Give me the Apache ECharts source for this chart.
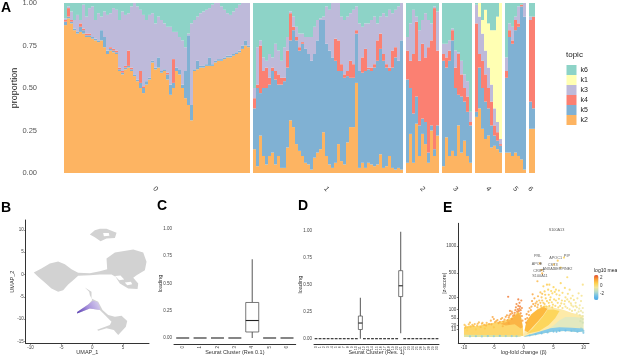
<!DOCTYPE html>
<html><head><meta charset="utf-8">
<script src="https://cdn.jsdelivr.net/npm/echarts@6/dist/echarts.min.js"></script>
<style>html,body{margin:0;padding:0;background:#fff}#c{width:617px;height:358px}</style></head>
<body><div id="c"></div>
<script>
// ---------- Panel A: upper edge of each topic band, column by column, null = gap between clusters
const clusterLabels = ['0','1','2','3','4','5','6'];
const clusterSizes = [62,50,11,10,9,7,2];
const topK2 = [
 .87,.91,.88,.84,.82,.83,.82,.80,.80,.79,.78,.77,.78,.74,.70,.72,.71,.70,.60,.58,
 .61,.62,.60,.57,.54,.50,.47,.52,.55,.65,.61,.62,.59,.60,.55,.46,.50,.60,.58,.50,
 .44,.40,.31,.60,.61,.62,.62,.63,.63,.63,.65,.66,.66,.67,.68,.68,.69,.70,.71,.73,.75,.74, null,
 .14,.04,.22,.10,.05,.10,.12,.05,.10,.03,.03,.15,.31,.27,.17,.13,.10,.06,.05,.02,
 .09,.12,.14,.24,.10,.05,.03,.06,.17,.07,.05,.18,.27,.27,.53,.03,.06,.03,.06,.05,
 .04,.05,.11,.03,.04,.10,.03,.02,.03,.02, null,
 .06,.23,.06,.29,.10,.23,.17,.06,.25,.10,.22, null,
 .04,.21,.10,.13,.10,.28,.12,.19,.10,.06, null,
 .33,.38,.26,.20,.22,.15,.16,.14,.12, null,
 .12,.12,.10,.12,.10,.08,.02, null,
 .26,.26];
const topK5 = [
 .89,.92,.89,.85,.83,.86,.84,.81,.81,.80,.79,.78,.84,.80,.72,.73,.72,.71,.61,.59,
 .62,.63,.61,.58,.55,.53,.50,.54,.56,.66,.62,.68,.60,.61,.58,.52,.53,.62,.61,.52,
 .60,.81,.40,.61,.66,.63,.63,.64,.68,.64,.66,.67,.67,.68,.69,.69,.70,.71,.72,.75,.78,.75, null,
 .38,.50,.47,.50,.50,.52,.60,.55,.52,.52,.54,.62,.78,.84,.78,.72,.76,.73,.70,.66,
 .70,.78,.90,.90,.76,.72,.68,.66,.60,.60,.56,.57,.56,.56,.82,.60,.59,.60,.61,.60,
 .62,.66,.73,.66,.62,.60,.62,.68,.66,.78, null,
 .55,.50,.35,.45,.28,.32,.30,.12,.28,.14,.28, null,
 .66,.62,.66,.78,.50,.46,.45,.42,.36,.28, null,
 .36,.62,.50,.42,.38,.28,.22,.19,.16, null,
 .56,.80,.76,.84,.86,.98,.92, null,
 .42,.38];
const topK4 = [
 .90,.97,.90,.85,.83,.88,.85,.82,.82,.80,.79,.78,.84,.80,.72,.74,.73,.72,.62,.60,
 .63,.72,.62,.58,.55,.60,.51,.54,.56,.66,.62,.68,.60,.61,.59,.52,.67,.62,.61,.52,
 .60,.81,.40,.61,.66,.63,.63,.64,.68,.64,.66,.67,.67,.68,.69,.69,.70,.71,.72,.75,.78,.75, null,
 .44,.52,.75,.60,.62,.56,.62,.60,.58,.56,.56,.72,.94,.86,.80,.74,.77,.73,.70,.66,
 .70,.78,.90,.90,.76,.72,.68,.79,.78,.64,.58,.60,.66,.64,.84,.60,.68,.73,.62,.62,
 .64,.78,.82,.70,.64,.62,.72,.74,.66,.78, null,
 .72,.66,.70,.89,.66,.76,.68,.74,.78,.97,.72, null,
 .70,.68,.72,.84,.62,.70,.58,.50,.45,.30, null,
 .88,.70,.66,.58,.50,.42,.28,.24,.17, null,
 .60,.84,.78,.90,.88,.99,.92, null,
 .90,.92];
const topK3 = [
 .91,.98,.95,.90,.93,.90,.99,.92,.97,.98,.90,.94,.92,.95,.93,.94,.97,.96,.90,.95,
 .93,.94,.98,1,.98,.96,.93,.90,.93,.94,.88,.92,.90,.88,.86,.86,.83,.83,.80,.78,
 .74,.82,.88,.90,.92,.94,.95,.96,.97,.99,1,1,.98,.96,.94,.93,.95,.97,.99,1,1,1, null,
 .50,.74,.78,.68,.66,.70,.68,.76,.72,.66,.74,.80,.95,.92,.86,.82,.82,.80,.80,.80,
 .86,.90,.91,.92,.98,.96,1,1,1,.92,.90,.92,.94,.96,.98,.88,.86,.88,.88,.90,
 .92,.88,.92,.94,.92,.96,.94,.96,.98,1, null,
 .80,.88,.96,.92,.84,.90,.94,.90,.88,.98,.95, null,
 .76,.76,.78,.85,.72,.71,.66,.58,.54,.36, null,
 .99,.92,.82,.72,.62,.52,.38,.30,.20, null,
 .68,.88,.86,.92,.98,.99,1, null,
 .92,.92];
const k1Cluster4 = [0,.08,.08,.24,.26,.32,.46,.62,.80];
const topicNames = ['k2','k5','k4','k3','k1','k6'];
const topicColors = ['#FDB462','#80B1D3','#FB8072','#BEBADA','#FFFFB3','#8DD3C7'];
const legendOrder = ['k6','k1','k3','k4','k5','k2'];

// ---------- Panel B: UMAP outlines, in UMAP units
const umapMain = [[-9.49,.45],[-8.24,1.34],[-6.88,2.46],[-5.53,2.91],[-4.44,2.31],[-3.36,1.19],[-2.28,.37],[-.38,.30],[1.25,.75],[2.44,1.19],[2.33,3.58],[3.69,4.93],[6.67,5.6],[8.29,4.93],[8.83,2.84],[8.56,.97],[7.21,-.15],[6.67,-.75],[7.48,-2.01],[7.37,-3.28],[5.85,-3.13],[4.5,-2.01],[3.79,-.52],[3.14,0],[1.25,0],[-.38,-.15],[-2.28,-.3],[-3.09,-1.27],[-3.9,-2.24],[-4.72,-3.51],[-5.53,-3.88],[-6.61,-3.13],[-7.7,-1.79],[-8.78,-.52]];
const umapTop = [[-.38,8.96],[.43,9.93],[1.25,10.3],[2.33,10.3],[3.96,9.4],[3.69,8.2],[2.33,8.06],[1.36,7.46],[.43,8.36]];
const umapLower = [[-1.19,-2.91],[-.81,-3.28],[-.11,-3.88],[-.11,-5.37],[.98,-6.12],[1.68,-7.99],[2.6,-9.1],[3.69,-9.48],[4.77,-9.25],[5.69,-10.45],[5.47,-11.72],[4.23,-13.58],[3.52,-12.46],[2.33,-12.09],[.98,-12.61],[.81,-12.39],[2.87,-11.34],[3.14,-10.6],[2.06,-9.1],[1.25,-7.99],[-.38,-7.61],[-2.44,-8.73],[-2.44,-8.43],[-.65,-6.72],[0,-5.75],[-.38,-4.63],[-.49,-3.88]];
const umapHole1 = [[1.79,9.3],[2.7,9.3],[2.8,8.7],[1.9,8.6]];
const umapHole2 = [[3.7,-.35],[4.6,-.2],[5.2,-1.1],[4.4,-1.3]];
const umapHole3 = [[5.3,-1.8],[6.3,-1.6],[6.5,-2.2],[5.7,-2.4]];
const umapPurple = [[-2.44,-8.73],[-2.44,-8.43],[-.65,-6.72],[.1,-5.9],[.9,-6.2],[1.3,-7.4],[1.25,-7.99],[-.38,-7.61]];

// ---------- Panels C and D: box statistics
const cClusters = ['0','1','2','3','4','5','6'];
const cMin = [0,0,0,0,0,0,0];
const cQ1  = [0,0,0,0,.055,0,0];
const cMed = [0,0,0,0,.16,0,0];
const cQ3  = [0,0,0,0,.325,0,0];
const cMax = [0,0,0,0,.72,0,0];
const dClusters = ['0','1','2','3','4','5','6','7','8','9','10','11','12','13','14','15','16','17','18','19','20','21','22','23','24','25','26','27','28','29','30'];
const dMin = [0,0,0,0,0,0,0,0,0,0,0,0,0,0,0,0,0,0,0,0,0,.05,0,0,0,0,0,0,0,0,0];
const dQ1  = [0,0,0,0,0,0,0,0,0,0,0,.085,0,0,0,0,0,0,0,0,0,.39,0,0,0,0,0,0,0,0,0];
const dMed = [0,0,0,0,0,0,0,0,0,0,0,.145,0,0,0,0,0,0,0,0,0,.49,0,0,0,0,0,0,0,0,0];
const dQ3  = [0,0,0,0,0,0,0,0,0,0,0,.21,0,0,0,0,0,0,0,0,0,.63,0,0,0,0,0,0,0,0,0];
const dMax = [0,0,0,0,0,0,0,0,0,0,0,.38,0,0,0,0,0,0,0,0,0,.99,0,0,0,0,0,0,0,0,0];

// ---------- Panel E: dense regions as [lfc, |z|] outlines, sparse points as [lfc, |z|, log10 mean]
const cloudLeftBase = [[-10,14],[-9,20],[-8,18],[-7,22],[-6,26],[-5,30],[-4,34],[-3,40],[-2,52],[-1.4,70],[-.9,88],[-.5,70],[-.2,25],[0,1],[-1,.5],[-10,.5]];
const cloudLeftHot = [[-4,26],[-3,32],[-2,46],[-1.3,66],[-.9,80],[-.5,60],[-.15,15],[-.5,12],[-1.5,24],[-3,20]];
const cloudLeftLow = [[-10,.5],[-.6,.5],[-.3,1.2],[-10,1.8]];
const cloudRightBase = [[0,1],[.3,22],[.8,46],[1.5,76],[2.5,108],[3.5,130],[5,112],[6.5,100],[8,78],[10,62],[10,6],[9,5],[8,6],[7,7],[5,6],[3,3],[1.5,1.2],[0,.3]];
const cloudRightWarm = [[.15,8],[.5,38],[1.3,70],[2.3,100],[3.3,118],[4,105],[3.2,62],[2.4,36],[1.5,16],[.7,5]];
const cloudRightMid = [[.5,3],[1.5,12],[2.4,32],[3.2,56],[4,98],[5,100],[6,90],[5.3,50],[4.2,22],[2.6,7]];
const cloudRightPale = [[3.5,6],[5,20],[6,40],[7,55],[8.5,55],[10,50],[10,10],[8,10],[6,11],[4.5,10]];
const cloudRightBlue = [[0,.3],[1.5,1.2],[3,3],[5,6],[7,7],[8,6],[9,5],[10,6],[10,12],[8,14],[6,15],[4.5,13],[3,7],[1.5,2.8],[.3,1]];
const cloudColors = ['#fdd66b','#fbb445','#d9e4a8','#fdeaa8','#fdb93f','#fdd65c','#e2e9c0','#86cbe8'];
const sparsePoints = [
 [1.4,165,1.5],[1.6,140,1.4],[2.3,385,1.0],[1.5,230,1.4],[-2.6,205,2.0],[-.9,180,2.0],[-.4,170,1.9],[-.7,150,1.9],[-1.2,140,1.8],[-.6,120,2],
 [-.3,110,1.8],[-1.0,100,1.9],[-1.4,95,1.7],[-2.3,90,1.8],[-2.0,85,1.6],[-.8,90,1.9],[-.5,95,1.8],[3.3,320,.6],[3.9,340,.7],[4.3,340,.6],
 [2.8,250,.8],[3.5,260,.6],[4.1,280,.5],[5.0,310,.5],[5.4,280,.3],[6.2,360,.5],[7.3,440,.2],[6.9,300,.2],[7.7,280,.1],[9.9,340,-.1],
 [9.2,240,-.2],[9.7,215,-.3],[8.2,215,-.1],[7.0,200,0],[6.0,220,.2],[5.5,230,.3],[4.8,240,.4],[3.0,200,.8],[4.5,200,.5],[3.7,190,.6],
 [5.1,180,.3],[6.4,170,.1],[7.6,160,-.1],[8.7,150,-.4],[9.4,130,-.5],[9.9,110,-.6],[8.0,130,-.3],[6.8,140,-.2],[2.2,160,1],[2.6,170,.9],
 [1.9,125,1.1],[3.3,150,.7],[4.2,150,.5],[5.7,150,.2],[9.9,80,-.7],[9.9,60,-.8],[9.9,45,-1],[9.9,30,-1.2],[8.6,95,-.5],[9.2,85,-.6],
 [7.3,110,-.2],[6.1,125,0],[4.9,135,.3],[3.8,120,.5],[2.9,125,.8],[1.2,95,1.3],[.9,65,1.4],[.6,50,1.5],[.4,30,1.5],[8.9,115,-.4],
 [-9.9,22,.8],[-9.8,14,.8],[-9.4,15,.7],[-9,30,1.0],[-8.6,22,.9],[-8.2,25,1],[-7.8,20,.9],[-7.5,31,1],[-7,26,1],[-6.6,22,1],
 [-6.2,29,1],[-5.8,25,1.1],[-5.2,55,1.4],[-5,45,1.4],[-4.8,32,1.2],[-4.4,40,1.3],[-4,33,1.2],[-3.6,50,1.3],[-3.2,42,1.3],[-2.8,64,1.5],
 [-2.5,52,1.5],[-2.2,70,1.6],[-1.8,60,1.6],[-1.5,78,1.7],[-9.5,8,.4],[-8,10,.5],[-6.5,12,.6],[-5,15,.7],[-3.5,18,1],[-2.5,28,1.3],
 [-9,.6,-2.2],[-8,.7,-2.3],[-7,.6,-2.1],[-6,.8,-2.3],[-5,.7,-2.2],[-4,.9,-2.4],[-3,.8,-2.1],[-2,.8,-2.2],[-1.2,.7,-2.2],[1,1.2,-2.5],
 [2,2.2,-2.5],[3,3.2,-2.6],[4,4.5,-2.6],[5,6,-2.7],[6,7,-2.7],[7,7.5,-2.7],[8,7,-2.6],[9,6,-2.5],[10,7,-2.3],[10,4,-2.5],
 [5.5,5.5,-2.7],[8.5,9,-2.3],[9.6,12,-2],[2.7,660,1.0],[6.75,767,.5],[5.7,710,.7],[5.05,640,.8],[6.2,590,.5],[3,548,1.1],[3.1,497,1.1],
 [1.8,190,1.3],[2.4,210,1.1],[3.1,235,.9],[3.6,225,.7],[4.2,225,.6],[4.6,265,.5],[5.2,255,.4],[5.9,270,.3],[6.5,245,.2],[7.4,235,0],
 [7.9,190,-.1],[8.4,175,-.2],[9.0,190,-.3],[9.6,165,-.4],[2.0,145,1.2],[2.4,135,1.1],[2.8,150,.9],[3.1,170,.8],[3.5,140,.7],[3.9,165,.6],
 [4.4,175,.5],[4.7,155,.4],[5.4,170,.3],[5.9,185,.2],[6.3,145,.1],[6.9,165,0],[7.3,180,-.1],[7.9,145,-.2],[8.3,120,-.3],[8.7,125,-.4],
 [9.3,105,-.6],[9.6,90,-.7],[1.3,120,1.4],[1.0,110,1.5],[.8,85,1.5],[.5,70,1.6],[.3,45,1.6],[2.3,115,1.2],[3.0,110,.9],[3.4,118,.8],
 [4.3,125,.6],[4.8,115,.5],[5.3,125,.3],[5.8,115,.2],[6.5,110,0],[7,120,-.1],[7.7,100,-.3],[8.1,90,-.4],[8.9,75,-.6],[9.4,65,-.8],
 [9.6,50,-.9],[9.5,36,-1.1],[-9.7,18,.9],[-9.2,24,.9],[-8.9,17,.8],[-8.4,19,.9],[-7.2,16,.9],[-7.7,26,1],[-6.9,29,1],[-6.3,20,1],
 [-5.5,38,1.2],[-5.4,24,1.1],[-4.6,36,1.2],[-4.2,28,1.2],[-3.8,45,1.3],[-3.4,34,1.3],[-3,56,1.4],[-2.7,40,1.4],[-2.4,62,1.6],[-2,46,1.5],
 [-1.9,75,1.7],[-1.6,65,1.7],[-1.3,115,1.8],[-1.1,85,1.8],[-.9,125,1.9],[-.7,105,1.9],[-.5,75,1.8],[-.3,60,1.7],[-.2,38,1.6]];
const geneLabels = ['S100A13','PRL','APOC1','PIP','APOE','CST3','ANXA1','SERPINE2','CRIP1','S100A11'];
const geneLfc = [5.5,2.34,5.35,7.24,2.23,4.85,4.2,6.6,2.56,2.73];
const geneZ = [1390,790,762,807,654,636,570,570,537,466];
const eTicks = [5,10,20,50,100,200,500,1000];
const meanTicks = ['2','0','-2'];

// ---------- assemble
const n = topK2.length;
const k1Vals = [];
const start4 = clusterSizes.slice(0,4).reduce((a,b)=>a+b,0)+4;
for (let i=0;i<n;i++){
  if (topK2[i]===null) k1Vals.push(null);
  else if (i>=start4 && i<start4+k1Cluster4.length) k1Vals.push(k1Cluster4[i-start4]);
  else k1Vals.push(0);
}
const diff=(a,b)=>a.map((v,i)=>v===null?null:+(v-(b?b[i]:0)).toFixed(3));
const k6Vals = topK3.map((v,i)=>v===null?null:+Math.max(0,1-v-k1Vals[i]).toFixed(3));
const stackVals = [topK2,diff(topK5,topK2),diff(topK4,topK5),diff(topK3,topK4),k1Vals,k6Vals];
const aCats=[]; clusterSizes.forEach((s,c)=>{
  for(let i=0;i<s;i++) aCats.push(i===Math.floor((s-1)/2)?clusterLabels[c]:'');
  if(c<clusterSizes.length-1) aCats.push('');
});
const F='"Liberation Sans",Arial,sans-serif';
const tiny={fontFamily:F,fontSize:4.5,color:'#444'};
const nameStyle={fontFamily:F,fontSize:5.5,color:'#333'};
const axLine={onZero:false,lineStyle:{color:'#333',width:1}};
const axTick={length:1.5,lineStyle:{color:'#333',width:.6}};

function polySeries(x,polys,styles,toY){
  return {type:'custom',xAxisIndex:x,yAxisIndex:x,silent:true,clip:false,
    data:polys.map((p,i)=>[i,0]),
    renderItem:(params,api)=>({type:'polygon',
      shape:{points:polys[params.dataIndex].map(p=>api.coord([p[0],toY?toY(p[1]):p[1]]))},
      style:styles(params.dataIndex)})};
}
function boxSeries(x,mins,q1,med,q3,maxs,w,flatW){
  return {type:'custom',xAxisIndex:x,yAxisIndex:x,silent:true,clip:false,
    data:mins.map((v,i)=>[i,med[i]]),
    renderItem:(params,api)=>{
      const i=params.dataIndex;
      const xc=api.coord([i,0])[0];
      const y=v=>api.coord([i,v])[1];
      const kids=[];
      const ww=maxs[i]>mins[i]?w:flatW;
      if(maxs[i]>mins[i]){
        kids.push({type:'line',shape:{x1:xc,y1:y(mins[i]),x2:xc,y2:y(q1[i])},style:{stroke:'#666',lineWidth:1.1}});
        kids.push({type:'line',shape:{x1:xc,y1:y(q3[i]),x2:xc,y2:y(maxs[i])},style:{stroke:'#666',lineWidth:1.1}});
        kids.push({type:'rect',shape:{x:xc-ww/2,y:y(q3[i]),width:ww,height:y(q1[i])-y(q3[i])},style:{fill:'#fff',stroke:'#555',lineWidth:.8}});
      }
      kids.push({type:'line',shape:{x1:xc-ww/2,y1:y(med[i]),x2:xc+ww/2,y2:y(med[i])},style:{stroke:'#222',lineWidth:1.1}});
      return {type:'group',children:kids};
    }};
}
const holeStyle={fill:'#fff'};
const bPolys=[umapMain,umapTop,umapLower,umapHole1,umapHole2,umapHole3];
const ePolys=[cloudLeftBase,cloudLeftHot,cloudLeftLow,cloudRightBase,cloudRightWarm,cloudRightMid,cloudRightPale,cloudRightBlue];

const series=[];
topicNames.forEach((t,i)=>series.push({name:t,type:'bar',stack:'a',xAxisIndex:0,yAxisIndex:0,
  barWidth:3,data:stackVals[i],itemStyle:{color:topicColors[i]},silent:true}));
series.push(polySeries(1,bPolys,i=>i<3?{fill:'#d2d2d2'}:holeStyle));
series.push(polySeries(1,[umapPurple],()=>({fill:new echarts.graphic.LinearGradient(0,1,1,0,[
  {offset:0,color:'#5a3fb5'},{offset:.45,color:'#a58fdb'},{offset:1,color:'#dcd6ee'}])})));
series.push(boxSeries(2,cMin,cQ1,cMed,cQ3,cMax,13,13));
series.push(boxSeries(3,dMin,dQ1,dMed,dQ3,dMax,4,2.8));
series.push(polySeries(4,ePolys,i=>({fill:cloudColors[i]}),Math.sqrt));
const eScatterIndex=series.length;
series.push({type:'scatter',xAxisIndex:4,yAxisIndex:4,symbolSize:2.2,silent:true,
  data:sparsePoints.map(p=>[p[0],Math.sqrt(p[1]),p[2]]),encode:{x:0,y:1}});
series.push({type:'scatter',xAxisIndex:4,yAxisIndex:4,symbolSize:0,silent:true,
  data:geneLabels.map((g,i)=>({name:g,value:[geneLfc[i],Math.sqrt(geneZ[i])]})),
  label:{show:true,position:'inside',formatter:p=>p.name,fontFamily:F,fontSize:3.8,color:'#333'}});

const letters=[['A',1,1],['B',1,201],['C',157,199],['D',298,199],['E',443,201]];
const titles=letters.map(l=>({text:l[0],left:l[1],top:l[2],padding:0,textStyle:{fontFamily:F,fontSize:14,fontWeight:'bold',color:'#000'}}));
titles.push({text:'topic',left:566,top:51,padding:0,textStyle:{fontFamily:F,fontSize:8,fontWeight:'normal',color:'#222'}});
titles.push({text:'log10 mean',left:594,top:268,padding:0,textStyle:{fontFamily:F,fontSize:5,fontWeight:'normal',color:'#222'}});
[277.3,285.3,293.3].forEach((y,i)=>titles.push({text:meanTicks[i],left:600,top:y-2.5,padding:0,textStyle:{fontFamily:F,fontSize:4.5,fontWeight:'normal',color:'#333'}}));

const option={
  animation:false,backgroundColor:'#fff',title:titles,
  legend:{data:legendOrder,orient:'vertical',left:566.5,top:65,padding:0,itemWidth:10,itemHeight:10,itemGap:0,icon:'rect',
    textStyle:{fontFamily:F,fontSize:7,color:'#222',padding:[0,0,0,-1]},selectedMode:false},
  visualMap:{type:'continuous',seriesIndex:eScatterIndex,dimension:2,min:-3.68,max:2.58,left:594,top:275,padding:0,
    itemWidth:4.5,itemHeight:25,calculable:false,text:['',''],showLabel:false,
    inRange:{color:['#45a7ea','#6fbfe6','#b7dcc8','#f2e79a','#fdd24f','#f89b36','#e64a2a']}},
  grid:[
    {left:64,top:3,width:471,height:170,outerBoundsMode:'none'},
    {left:25.7,top:220,width:123.3,height:123.3,outerBoundsMode:'none'},
    {left:174,top:223,width:121.7,height:121,outerBoundsMode:'none'},
    {left:314,top:225,width:125,height:119.3,outerBoundsMode:'none'},
    {left:458.3,top:223.3,width:130.7,height:120,outerBoundsMode:'none'}
  ],
  xAxis:[
    {gridIndex:0,type:'category',data:aCats,axisLine:{show:false},axisTick:{show:false},
      axisLabel:{interval:0,rotate:-50,margin:16,align:'center',verticalAlign:'middle',fontFamily:F,fontSize:7,color:'#333'}},
    {gridIndex:1,type:'value',min:-10.8,max:9.23,splitLine:{show:false},axisLine:axLine,axisTick:{...axTick,customValues:[-10,-5,0,5]},
      axisLabel:{...tiny,margin:2,customValues:[-10,-5,0,5]},
      name:'UMAP_1',nameLocation:'middle',nameGap:6,nameMoveOverlap:false,nameTextStyle:nameStyle},
    {gridIndex:2,type:'category',data:cClusters,axisLine:axLine,axisTick:{...axTick,alignWithLabel:true},
      axisLabel:{...tiny,interval:0,rotate:90,margin:2},
      name:'Seurat Cluster (Res 0.1)',nameLocation:'middle',nameGap:5.5,nameMoveOverlap:false,nameTextStyle:nameStyle},
    {gridIndex:3,type:'category',data:dClusters,axisLine:axLine,axisTick:{...axTick,alignWithLabel:true},
      axisLabel:{...tiny,fontSize:3.6,interval:0,rotate:90,margin:2},
      name:'Seurat Cluster (Res. 1)',nameLocation:'middle',nameGap:5,nameMoveOverlap:false,nameTextStyle:nameStyle},
    {gridIndex:4,type:'value',min:-10.95,max:10.94,splitLine:{show:false},axisLine:axLine,axisTick:{...axTick,customValues:[-10,-5,0,5,10]},
      axisLabel:{...tiny,margin:2,customValues:[-10,-5,0,5,10]},
      name:'log-fold change (β)',nameLocation:'middle',nameGap:6,nameMoveOverlap:false,nameTextStyle:nameStyle}
  ],
  yAxis:[
    {gridIndex:0,type:'value',min:0,max:1,interval:.25,splitLine:{show:false},axisLine:{show:false},axisTick:{show:false},
      axisLabel:{margin:27,fontFamily:F,fontSize:7.5,color:'#555',formatter:v=>v.toFixed(2)},
      name:'proportion',nameLocation:'middle',nameGap:45,nameMoveOverlap:false,nameTextStyle:{fontFamily:F,fontSize:9,color:'#222'}},
    {gridIndex:1,type:'value',min:-15.45,max:12.24,splitLine:{show:false},axisLine:axLine,axisTick:{...axTick,customValues:[-15,-10,-5,0,5,10]},
      axisLabel:{...tiny,margin:2,customValues:[-15,-10,-5,0,5,10]},
      name:'UMAP_2',nameLocation:'middle',nameGap:10,nameMoveOverlap:false,nameTextStyle:nameStyle},
    {gridIndex:2,type:'value',min:-.0549,max:1.052,splitLine:{show:false},axisLine:axLine,axisTick:{...axTick,customValues:[0,.25,.5,.75,1]},
      axisLabel:{...tiny,margin:2,customValues:[0,.25,.5,.75,1],formatter:v=>v.toFixed(2)},
      name:'loading',nameLocation:'middle',nameGap:11,nameMoveOverlap:false,nameTextStyle:nameStyle},
    {gridIndex:3,type:'value',min:-.0519,max:1.0528,splitLine:{show:false},axisLine:axLine,axisTick:{...axTick,customValues:[0,.25,.5,.75,1]},
      axisLabel:{...tiny,margin:2,customValues:[0,.25,.5,.75,1],formatter:v=>v.toFixed(2)},
      name:'loading',nameLocation:'middle',nameGap:11,nameMoveOverlap:false,nameTextStyle:nameStyle},
    {gridIndex:4,type:'value',min:-1.57,max:39.4,splitLine:{show:false},axisLine:axLine,
      axisTick:{...axTick,customValues:eTicks.map(Math.sqrt)},
      axisLabel:{...tiny,margin:2,customValues:eTicks.map(Math.sqrt),formatter:v=>String(Math.round(v*v))},
      name:'|z-score|',nameLocation:'middle',nameGap:11,nameMoveOverlap:false,nameTextStyle:nameStyle}
  ],
  series
};
const chart=echarts.init(document.getElementById('c'),null,{renderer:'canvas'});
chart.setOption(option);
</script></body></html>
